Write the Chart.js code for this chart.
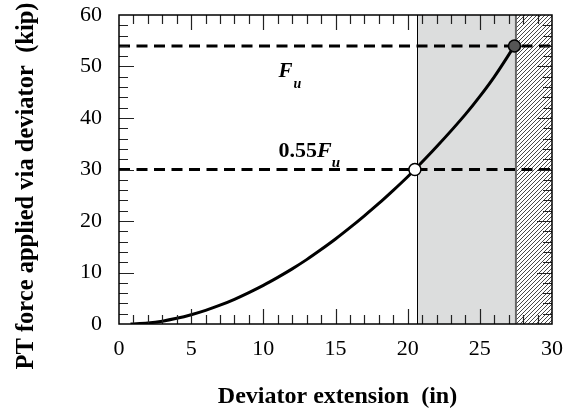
<!DOCTYPE html>
<html>
<head>
<meta charset="utf-8">
<script src="https://cdn.jsdelivr.net/npm/chart.js@4"></script>
<style>
html, body { margin: 0; padding: 0; background: #fff; }
</style>
</head>
<body>
<canvas id="chart" width="574" height="412"></canvas>
<script>
// deviator extension (in) vs PT force (kip)
const extension = [0.8, 2, 3, 4, 5, 6, 7, 8, 9, 10, 11, 12, 13, 14, 15, 16, 17, 18, 19, 20, 20.5, 22, 24, 25, 26, 27.4];
const force = [0, 0.2, 0.55, 1.1, 1.8, 2.65, 3.65, 4.8, 6.1, 7.5, 9.05, 10.7, 12.5, 14.45, 16.5, 18.7, 21.0, 23.4, 25.95, 28.6, 30, 34.4, 40.7, 44.2, 48.0, 54];
const markX = [20.5, 27.4];
const markY = [30, 54];
const markColors = ['#ffffff', '#555555'];
const fu = 54;
const fu55 = 30;
const lineSpan = [0, 30];
const shadedRange = [20.65, 27.5];
const hatchedRange = [27.5, 30];
const xTitle = 'Deviator extension  (in)';
const yTitle = 'PT force applied via deviator  (kip)';

const serif = '"Liberation Serif", "Times New Roman", serif';
Chart.defaults.font.family = serif;
Chart.defaults.color = '#000';

function makeHatch() {
    const p = document.createElement('canvas');
    p.width = 4; p.height = 4;
    const pc = p.getContext('2d');
    pc.fillStyle = '#fff';
    pc.fillRect(0, 0, 4, 4);
    pc.strokeStyle = '#333';
    pc.lineWidth = 0.9;
    pc.beginPath();
    pc.moveTo(0, 4); pc.lineTo(4, 0);
    pc.moveTo(-1, 1); pc.lineTo(1, -1);
    pc.moveTo(3, 5); pc.lineTo(5, 3);
    pc.stroke();
    return pc.createPattern(p, 'repeat');
}

const regions = {
    id: 'regions',
    beforeDatasetsDraw(chart) {
        const {ctx, chartArea: a, scales: {x}} = chart;
        ctx.save();
        const s0 = x.getPixelForValue(shadedRange[0]);
        const s1 = x.getPixelForValue(shadedRange[1]);
        ctx.fillStyle = '#dcdddd';
        ctx.fillRect(s0, a.top, s1 - s0, a.bottom - a.top);
        ctx.strokeStyle = '#000';
        ctx.lineWidth = 1;
        ctx.beginPath();
        const sl = Math.round(s0) + 0.5;
        ctx.moveTo(sl, a.top); ctx.lineTo(sl, a.bottom);
        ctx.stroke();
        const h0 = x.getPixelForValue(hatchedRange[0]);
        const h1 = x.getPixelForValue(hatchedRange[1]);
        ctx.fillStyle = makeHatch();
        ctx.fillRect(h0, a.top, h1 - h0, a.bottom - a.top);
        ctx.strokeStyle = '#666';
        ctx.lineWidth = 2;
        ctx.beginPath();
        ctx.moveTo(h0, a.top); ctx.lineTo(h0, a.bottom);
        ctx.stroke();
        ctx.restore();
    }
};

const frame = {
    id: 'frame',
    afterDatasetsDraw(chart) {
        const {ctx, chartArea: a, scales: {x, y}} = chart;
        ctx.save();
        ctx.strokeStyle = '#222';
        ctx.lineWidth = 1.2;
        ctx.beginPath();
        for (let v = 1; v < 30; v++) {
            const px = Math.round(x.getPixelForValue(v)) + 0.5;
            const len = v % 5 === 0 ? 15 : 9;
            ctx.moveTo(px, a.bottom); ctx.lineTo(px, a.bottom - len);
            ctx.moveTo(px, a.top); ctx.lineTo(px, a.top + len);
        }
        for (let v = 2; v < 60; v += 2) {
            const py = Math.round(y.getPixelForValue(v)) + 0.5;
            const len = v % 10 === 0 ? 15 : 9;
            ctx.moveTo(a.left, py); ctx.lineTo(a.left + len, py);
            ctx.moveTo(a.right, py); ctx.lineTo(a.right - len, py);
        }
        ctx.stroke();
        ctx.strokeStyle = '#000';
        ctx.lineWidth = 1.5;
        ctx.strokeRect(a.left, a.top, a.right - a.left, a.bottom - a.top);

        // labels on the dashed lines
        const lx = x.getPixelForValue(11.05);
        const yFu = y.getPixelForValue(fu);
        const y55 = y.getPixelForValue(fu55);
        ctx.fillStyle = '#000';
        ctx.textBaseline = 'alphabetic';
        ctx.textAlign = 'left';
        ctx.font = 'italic bold 21px ' + serif;
        ctx.fillText('F', lx, yFu + 31);
        let w = ctx.measureText('F').width;
        ctx.font = 'italic bold 14px ' + serif;
        ctx.fillText('u', lx + w + 1, yFu + 42);

        ctx.font = 'bold 22px ' + serif;
        ctx.fillText('0.55', lx, y55 - 13);
        w = ctx.measureText('0.55').width;
        ctx.font = 'italic bold 22px ' + serif;
        ctx.fillText('F', lx + w, y55 - 13);
        w += ctx.measureText('F').width;
        ctx.font = 'italic bold 15px ' + serif;
        ctx.fillText('u', lx + w, y55 - 3);

        // axis titles
        ctx.font = 'bold 24px ' + serif;
        ctx.textAlign = 'center';
        ctx.fillText(xTitle, (a.left + a.right) / 2 + 2, 403);
        ctx.translate(33, 186);
        ctx.rotate(-Math.PI / 2);
        ctx.font = 'bold 24.5px ' + serif;
        ctx.fillText(yTitle, 0, 0);
        ctx.restore();
    }
};

new Chart(document.getElementById('chart'), {
    type: 'scatter',
    data: {
        datasets: [
            {
                label: 'marks',
                data: markX.map((v, i) => ({x: v, y: markY[i]})),
                pointRadius: 6,
                pointBackgroundColor: markColors,
                pointBorderColor: '#000',
                pointBorderWidth: 1.5,
                showLine: false,
                order: 0
            },
            {
                label: 'force',
                data: extension.map((v, i) => ({x: v, y: force[i]})),
                showLine: true,
                borderColor: '#000',
                borderWidth: 3,
                pointRadius: 0,
                cubicInterpolationMode: 'monotone',
                order: 1
            },
            {
                label: 'Fu',
                data: lineSpan.map(v => ({x: v, y: fu})),
                showLine: true,
                borderColor: '#000',
                borderWidth: 3,
                borderDash: [11, 6.5],
                pointRadius: 0,
                order: 2
            },
            {
                label: '0.55Fu',
                data: lineSpan.map(v => ({x: v, y: fu55})),
                showLine: true,
                borderColor: '#000',
                borderWidth: 3,
                borderDash: [11, 6.5],
                pointRadius: 0,
                order: 2
            }
        ]
    },
    options: {
        responsive: false,
        animation: false,
        layout: {padding: {top: 15, right: 22, left: 0, bottom: 0}},
        plugins: {legend: {display: false}, tooltip: {enabled: false}},
        scales: {
            x: {
                type: 'linear',
                min: 0, max: 30,
                grid: {display: false, drawTicks: false},
                border: {display: false},
                ticks: {stepSize: 5, font: {size: 22}, color: '#000', padding: 12, maxRotation: 0},
                afterFit(scale) { scale.height = 88; scale.paddingLeft = 0; scale.paddingRight = 0; }
            },
            y: {
                min: 0, max: 60,
                grid: {display: false, drawTicks: false},
                border: {display: false},
                ticks: {stepSize: 10, font: {size: 22}, color: '#000', padding: 17},
                afterFit(scale) { scale.width = 119; scale.paddingTop = 0; scale.paddingBottom = 0; }
            }
        }
    },
    plugins: [regions, frame]
});
</script>
</body>
</html>
